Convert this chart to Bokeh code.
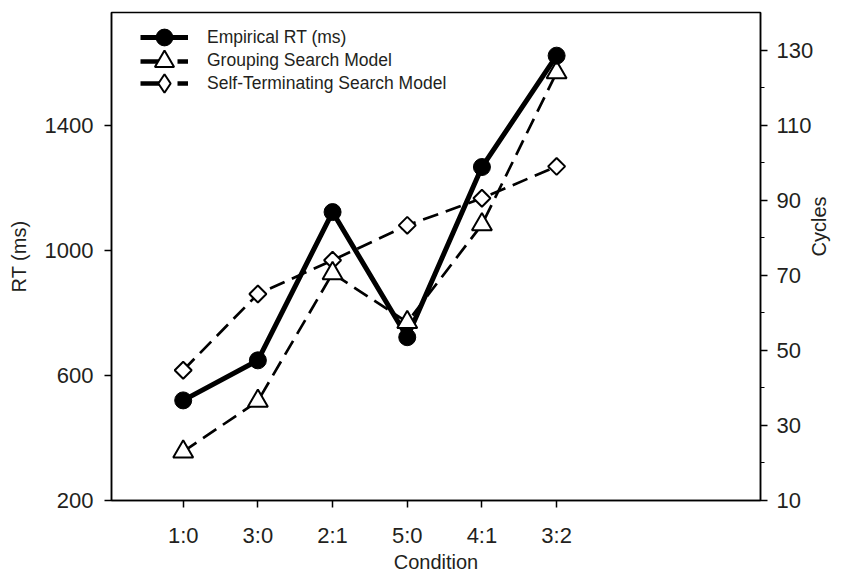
import math
from bokeh.plotting import figure
from bokeh.models import Range1d, LinearAxis, FixedTicker, Legend, LegendItem
from bokeh.embed import file_html
from bokeh.resources import INLINE

# ---- data ----
conditions = ["1:0", "3:0", "2:1", "5:0", "4:1", "3:2"]
empirical_rt = [520, 648, 1122, 722, 1266, 1622]          # ms, left axis
grouping_cycles = [23, 36.5, 70.5, 57.5, 83.5, 124]       # cycles, right axis
self_term_cycles = [44.7, 65, 74, 83.3, 90.5, 99]         # cycles, right axis
rt_ticks = [200, 600, 1000, 1400]
cycle_ticks = [10, 30, 50, 70, 90, 110, 130]
cycle_minor_ticks = [20, 40, 60, 80, 100, 120]
legend_labels = ["Empirical RT (ms)", "Grouping Search Model",
                 "Self-Terminating Search Model"]

x = list(range(1, len(conditions) + 1))

FONT = "Liberation Sans"
TXT = "#231f20"
FRAME_BOTTOM = 501

p = figure(width=845, height=575, output_backend="svg", toolbar_location=None,
           x_range=Range1d(0.04, 8.73), y_range=Range1d(200, 1760),
           min_border_left=111, min_border_right=85, min_border_top=12,
           min_border_bottom=575 - FRAME_BOTTOM)
p.extra_y_ranges = {"cycles": Range1d(10, 140)}
p.xgrid.visible = False
p.ygrid.visible = False
p.outline_line_color = "black"
p.outline_line_width = 1.5
p.outline_line_alpha = 1
p.background_fill_color = "white"
p.border_fill_color = "white"


def style_axis(ax, standoff=10, label_standoff=8):
    ax.axis_line_color = "black"
    ax.axis_line_width = 1.5
    ax.major_tick_line_color = "black"
    ax.major_tick_line_width = 1.5
    ax.major_tick_out = 7
    ax.major_tick_in = 0
    ax.minor_tick_line_color = None
    ax.major_label_text_font = FONT
    ax.major_label_text_font_size = "22px"
    ax.major_label_text_color = TXT
    ax.major_label_standoff = standoff
    ax.axis_label_text_font = FONT
    ax.axis_label_text_font_size = "20px"
    ax.axis_label_text_font_style = "normal"
    ax.axis_label_text_color = TXT
    ax.axis_label_standoff = label_standoff


xa = p.xaxis[0]
xa.ticker = FixedTicker(ticks=x)
xa.major_label_overrides = {i: c for i, c in zip(x, conditions)}
xa.axis_label = "Condition"
style_axis(xa, standoff=15, label_standoff=0)

ya = p.yaxis[0]
ya.ticker = FixedTicker(ticks=rt_ticks)
ya.axis_label = "RT (ms)"
style_axis(ya, standoff=11, label_standoff=12)

ra = LinearAxis(y_range_name="cycles", axis_label="Cycles",
                ticker=FixedTicker(ticks=cycle_ticks, minor_ticks=cycle_minor_ticks))
style_axis(ra, standoff=9, label_standoff=3)
ra.minor_tick_line_color = "black"
ra.minor_tick_line_width = 1.2
ra.minor_tick_out = 4
ra.minor_tick_in = 0
ra.axis_label_orientation = math.pi / 2
p.add_layout(ra, "right")

# ---- glyphs ----
st_line = p.line(x, self_term_cycles, y_range_name="cycles", line_color="black",
                 line_width=2.7, line_dash="16 8")
gr_line = p.line(x, grouping_cycles, y_range_name="cycles", line_color="black",
                 line_width=2.7, line_dash="16 8")
emp_line = p.line(x, empirical_rt, line_color="black", line_width=5)

st_mk = p.scatter(x, self_term_cycles, y_range_name="cycles", marker="square",
                  angle=math.pi / 4, size=12, fill_color="white",
                  line_color="black", line_width=2)
gr_mk = p.scatter(x, grouping_cycles, y_range_name="cycles", marker="triangle",
                  size=20, fill_color="white", line_color="black", line_width=2)
emp_mk = p.scatter(x, empirical_rt, marker="circle", size=17,
                   fill_color="black", line_color="black")

# hidden renderers that only supply the legend's sample styles
lg_emp = p.line(x, empirical_rt, line_color="black", line_width=5, visible=False)
lg_gr = p.line(x, grouping_cycles, y_range_name="cycles", line_color="black",
               line_width=4.5, line_dash="20 17", visible=False)
lg_st = p.line(x, self_term_cycles, y_range_name="cycles", line_color="black",
               line_width=4.5, line_dash="20 17", visible=False)
lg_st_mk = p.scatter(x, self_term_cycles, y_range_name="cycles", marker="diamond",
                     size=12, fill_color="white", line_color="black",
                     line_width=2, visible=False)

# one legend per row so that rows can sit closer than the marker boxes
rows = [
    (legend_labels[0], [lg_emp, emp_mk], 38.3, 42),
    (legend_labels[1], [lg_gr, gr_mk], 61.7, 50),
    (legend_labels[2], [lg_st, lg_st_mk], 84.0, 46),
]
for label, rends, cy, gh in rows:
    lg = Legend(items=[LegendItem(label=label, renderers=rends)],
                location=(29, FRAME_BOTTOM - cy - gh / 2),
                background_fill_alpha=0, border_line_alpha=0,
                padding=0, margin=0, spacing=0, glyph_width=48, glyph_height=gh,
                label_height=22, label_standoff=19, label_text_font=FONT,
                label_text_font_size="17.5px", label_text_color=TXT,
                label_text_baseline="middle")
    p.add_layout(lg)

open("out.html", "w").write(file_html(p, INLINE))
